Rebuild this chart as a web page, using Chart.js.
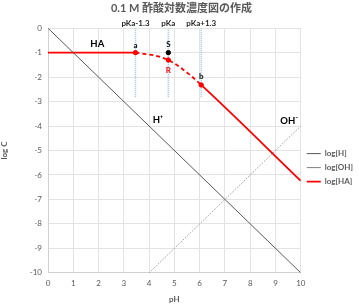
<!DOCTYPE html>
<html>
<head>
<meta charset="utf-8">
<script src="https://cdn.jsdelivr.net/npm/chart.js@4/dist/chart.umd.min.js"></script>
<style>
  html, body { margin: 0; padding: 0; background: #fff; }
  #wrap { width: 359px; height: 307px; }
</style>
</head>
<body>
<div id="wrap"><canvas id="logChart"></canvas></div>
<script>
// values
const hPH = [0, 10];
const hLog = [0, -10];
const ohPH = [4, 10];
const ohLog = [-10, -4];
const haPH = [0, 3.46, 3.8, 4.2, 4.76, 5.2, 5.6, 6.06, 10];
const haLog = [-1, -1, -1.05, -1.11, -1.3, -1.58, -1.9, -2.32, -6.24];

const markerPH = [3.46, 4.76, 4.76, 6.06];
const markerLog = [-1, -1, -1.3, -2.32];
const markerNames = ['a', 'S', 'R', 'b'];
const markerLabelLog = [-0.7, -0.65, -1.72, -1.97];
const markerColors = ['#ff0000', '#000000', '#ff0000', '#ff0000'];

const pkaPH = [3.46, 4.76, 6.06];
const pkaNames = ['pKa-1.3', 'pKa', 'pKa+1.3'];
const guideLog = [0, -2.85];

const regionNames = ['HA', 'H\u207A', 'OH\u207B'];
const regionPH = [1.95, 4.35, 9.55];
const regionLog = [-0.66, -3.74, -3.78];

const FONT = "Lato, 'Noto Sans CJK JP', sans-serif";
const GREY = '#595959';

function pts(xs, ys) {
    return xs.map((x, i) => ({ x: x, y: ys[i] }));
}

let datasets = [
    {
        label: 'log[H]',
        data: pts(hPH, hLog),
        borderColor: '#595959',
        borderWidth: 1,
        pointRadius: 0
    },
    {
        label: 'log[OH]',
        data: pts(ohPH, ohLog),
        borderColor: '#7f7f7f',
        borderWidth: 1,
        borderDash: [1, 1.5],
        pointRadius: 0
    },
    {
        label: 'log[HA]',
        data: pts(haPH, haLog),
        borderColor: '#ff0000',
        borderWidth: 1.8,
        pointRadius: 0,
        cubicInterpolationMode: 'monotone',
        segment: {
            borderDash: c => (c.p0.parsed.x >= 3.4 && c.p1.parsed.x <= 6.1) ? [4, 3] : undefined
        }
    },
    {
        label: 'markers',
        data: pts(markerPH, markerLog),
        showLine: false,
        pointRadius: 2.2,
        pointBackgroundColor: markerColors,
        pointBorderColor: markerColors
    }
];

pkaPH.forEach(p => {
    datasets.push({
        label: 'guide',
        data: pts([p, p], guideLog),
        borderColor: '#9dc3e6',
        borderWidth: 1.5,
        borderDash: [1, 1],
        pointRadius: 0
    });
});

const textPlugin = {
    id: 'texts',
    afterDatasetsDraw(chart) {
        const ctx = chart.ctx;
        const xs = chart.scales.x, ys = chart.scales.y;
        ctx.save();
        ctx.textAlign = 'center';
        ctx.textBaseline = 'middle';

        ctx.font = 'bold 8px ' + FONT;
        ctx.fillStyle = '#262626';
        pkaPH.forEach((p, i) => {
            ctx.fillText(pkaNames[i], xs.getPixelForValue(p), chart.chartArea.top - 5);
        });

        markerNames.forEach((n, i) => {
            ctx.fillStyle = n === 'R' ? '#ff0000' : '#000000';
            ctx.fillText(n, xs.getPixelForValue(markerPH[i]), ys.getPixelForValue(markerLabelLog[i]));
        });

        ctx.font = 'bold 9.5px ' + FONT;
        ctx.fillStyle = '#000000';
        regionNames.forEach((n, i) => {
            ctx.fillText(n, xs.getPixelForValue(regionPH[i]), ys.getPixelForValue(regionLog[i]));
        });
        ctx.restore();
    }
};

let ctx = document.getElementById('logChart').getContext('2d');
let logChart = new Chart(ctx, {
    type: 'line',
    data: { datasets: datasets },
    plugins: [textPlugin],
    options: {
        responsive: true,
        maintainAspectRatio: false,
        animation: false,
        layout: { padding: { left: 0, right: -4, top: 0, bottom: 3 } },
        plugins: {
            title: {
                display: true,
                text: '0.1 M 酢酸対数濃度図の作成',
                color: GREY,
                font: { family: FONT, size: 11, weight: 'bold' },
                padding: { top: 2, bottom: 13 }
            },
            legend: {
                position: 'right',
                align: 'start',
                title: {
                    display: true,
                    text: ' ',
                    padding: { top: 134, bottom: 0 },
                    font: { size: 8 }
                },
                labels: {
                    filter: item => item.datasetIndex < 3,
                    usePointStyle: true,
                    pointStyle: 'line',
                    pointStyleWidth: 14,
                    boxHeight: 8,
                    padding: 6,
                    color: GREY,
                    font: { family: FONT, size: 8, weight: 'bold' }
                }
            },
            tooltip: { enabled: false }
        },
        scales: {
            x: {
                type: 'linear',
                min: 0,
                max: 10,
                ticks: { stepSize: 1, color: GREY, padding: 6, font: { family: FONT, size: 8 } },
                grid: { color: '#e3e3e3', drawTicks: false },
                border: { color: '#d0d0d0' },
                title: {
                    display: true,
                    text: 'pH',
                    color: GREY,
                    font: { family: FONT, size: 8, weight: 'bold' },
                    padding: { top: 0, bottom: 0 }
                }
            },
            y: {
                min: -10,
                max: 0,
                afterFit: scale => { scale.width = 48; },
                ticks: { stepSize: 1, color: GREY, padding: 6, font: { family: FONT, size: 8 } },
                grid: { color: '#e3e3e3', drawTicks: false },
                border: { color: '#d0d0d0' },
                title: {
                    display: true,
                    text: 'log C',
                    color: GREY,
                    font: { family: FONT, size: 8, weight: 'bold' },
                    padding: 0
                }
            }
        }
    }
});
</script>
</body>
</html>
